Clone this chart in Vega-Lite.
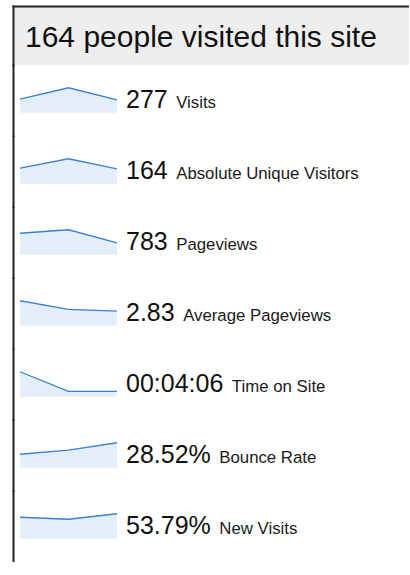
{
  "$schema": "https://vega.github.io/schema/vega-lite/v6.json",
  "padding": {"left": 13, "top": 6, "right": 0, "bottom": 0},
  "background": "white",
  "config": {"view": {"stroke": null}, "font": "Liberation Sans"},
  "datasets": {
    "points": [
      {"metric": "Visits", "period": 1, "value": 73},
      {"metric": "Visits", "period": 2, "value": 135},
      {"metric": "Visits", "period": 3, "value": 69},
      {"metric": "Absolute Unique Visitors", "period": 1, "value": 46},
      {"metric": "Absolute Unique Visitors", "period": 2, "value": 74},
      {"metric": "Absolute Unique Visitors", "period": 3, "value": 44},
      {"metric": "Pageviews", "period": 1, "value": 288},
      {"metric": "Pageviews", "period": 2, "value": 335},
      {"metric": "Pageviews", "period": 3, "value": 160},
      {"metric": "Average Pageviews", "period": 1, "value": 3.95},
      {"metric": "Average Pageviews", "period": 2, "value": 2.59},
      {"metric": "Average Pageviews", "period": 3, "value": 2.32},
      {"metric": "Time on Site", "period": 1, "value": 578},
      {"metric": "Time on Site", "period": 2, "value": 126},
      {"metric": "Time on Site", "period": 3, "value": 126},
      {"metric": "Bounce Rate", "period": 1, "value": 21.0},
      {"metric": "Bounce Rate", "period": 2, "value": 27.3},
      {"metric": "Bounce Rate", "period": 3, "value": 38.9},
      {"metric": "New Visits", "period": 1, "value": 54.0},
      {"metric": "New Visits", "period": 2, "value": 49.0},
      {"metric": "New Visits", "period": 3, "value": 62.8}
    ],
    "summary": [
      {"metric": "Visits", "display": "277"},
      {"metric": "Absolute Unique Visitors", "display": "164"},
      {"metric": "Pageviews", "display": "783"},
      {"metric": "Average Pageviews", "display": "2.83"},
      {"metric": "Time on Site", "display": "00:04:06"},
      {"metric": "Bounce Rate", "display": "28.52%"},
      {"metric": "New Visits", "display": "53.79%"}
    ],
    "header": [{"title": "164 people visited this site"}]
  },
  "spacing": 0,
  "bounds": "flush",
  "vconcat": [
    {
      "width": 396,
      "height": 59,
      "view": {"fill": "#eeeeee", "stroke": null},
      "data": {"name": "header"},
      "mark": {"type": "text", "align": "left", "baseline": "middle", "dx": 12, "dy": 2, "fontSize": 30, "font": "Liberation Sans", "color": "#111111"},
      "encoding": {
        "x": {"datum": 0, "type": "quantitative", "scale": {"domain": [0, 1], "nice": false, "zero": false},
              "axis": {"orient": "top", "domain": true, "domainColor": "#222222", "domainWidth": 2, "domainCap": "square", "ticks": false, "labels": false, "grid": false, "title": null}},
        "y": {"datum": 0.5, "type": "quantitative", "scale": {"domain": [0, 1], "nice": false, "zero": false},
              "axis": {"orient": "left", "domain": true, "domainColor": "#222222", "domainWidth": 2, "domainCap": "square", "ticks": false, "labels": false, "grid": false, "title": null}},
        "text": {"field": "title"}
      }
    },
    {
      "data": {"name": "points"},
      "transform": [
        {"lookup": "metric", "from": {"data": {"name": "summary"}, "key": "metric", "fields": ["display"]}}
      ],
      "facet": {
        "row": {
          "field": "metric",
          "type": "nominal",
          "sort": ["Visits", "Absolute Unique Visitors", "Pageviews", "Average Pageviews", "Time on Site", "Bounce Rate", "New Visits"],
          "header": {"title": null, "labels": false}
        }
      },
      "spacing": {"row": 0},
      "bounds": "flush",
      "resolve": {"scale": {"y": "independent"}},
      "spec": {
        "width": 111,
        "height": 70.5,
        "layer": [
          {
            "mark": {"type": "area", "color": "#e4eef9", "opacity": 1},
            "encoding": {
              "x": {"field": "period", "type": "quantitative", "scale": {"nice": false, "zero": false, "padding": 7}, "axis": null},
              "y": {"field": "value", "type": "quantitative", "scale": {"zero": true, "nice": false, "padding": 22.75},
                    "axis": {"domain": true, "domainColor": "#222222", "domainWidth": 2, "domainCap": "square", "ticks": false, "labels": false, "grid": false, "title": null}},
              "y2": {"datum": 0}
            }
          },
          {
            "mark": {"type": "line", "color": "#3a80d6", "strokeWidth": 1.3},
            "encoding": {
              "x": {"field": "period", "type": "quantitative", "axis": null},
              "y": {"field": "value", "type": "quantitative",
                    "axis": {"domain": true, "domainColor": "#222222", "domainWidth": 2, "domainCap": "square", "ticks": false, "labels": false, "grid": false, "title": null}}
            }
          },
          {
            "transform": [{"filter": "datum.period === 3"}],
            "mark": {"type": "text", "align": "left", "baseline": "alphabetic", "dx": 9, "dy": -4.5, "fontSize": 25, "font": "Liberation Sans", "color": "#111111"},
            "encoding": {
              "x": {"datum": 3, "type": "quantitative", "axis": null},
              "y": {"datum": 0, "type": "quantitative",
                    "axis": {"domain": true, "domainColor": "#222222", "domainWidth": 2, "domainCap": "square", "ticks": false, "labels": false, "grid": false, "title": null}},
              "text": {"field": "display"}
            }
          },
          {
            "transform": [{"filter": "datum.period === 3"}],
            "mark": {"type": "text", "align": "left", "baseline": "alphabetic",
                     "dx": {"expr": "17.5 + 25*(0.556*length(replace(datum.display, regexp('[^0-9]','g'), '')) + 0.278*length(replace(datum.display, regexp('[^.:]','g'), '')) + 0.889*length(replace(datum.display, regexp('[^%]','g'), '')))"},
                     "dy": -4.5, "fontSize": 16.8, "font": "Liberation Sans", "color": "#1a1a1a"},
            "encoding": {
              "x": {"datum": 3, "type": "quantitative", "axis": null},
              "y": {"datum": 0, "type": "quantitative",
                    "axis": {"domain": true, "domainColor": "#222222", "domainWidth": 2, "domainCap": "square", "ticks": false, "labels": false, "grid": false, "title": null}},
              "text": {"field": "metric"}
            }
          }
        ]
      }
    }
  ]
}
